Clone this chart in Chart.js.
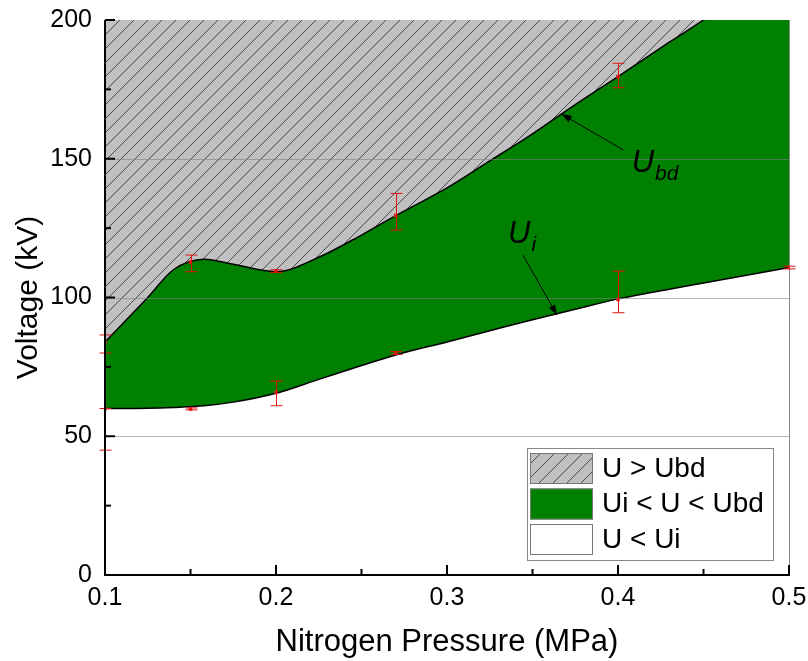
<!DOCTYPE html>
<html>
<head>
<meta charset="utf-8">
<script src="https://cdn.jsdelivr.net/npm/chart.js@4/dist/chart.umd.min.js"></script>
<style>
  html, body { margin: 0; padding: 0; background: #fff; }
  #wrap { width: 808px; height: 661px; }
</style>
</head>
<body>
<div id="wrap"><canvas id="chart" width="808" height="661"></canvas></div>
<script>
// boundary curves at these pressures (MPa)
let curveX   = [0.1, 0.125, 0.14, 0.158, 0.175, 0.2, 0.225, 0.25, 0.27, 0.3, 0.325, 0.35, 0.375, 0.4, 0.43, 0.45, 0.5];
let ubdCurve = [84, 100, 110, 113.8, 112, 109.3, 114.5, 122.5, 129.5, 139.5, 149.2, 159, 169.5, 179.6, 192, 200, 222];
let uiCurve  = [60, 60.1, 60.4, 61, 62.3, 65.5, 70.5, 75.5, 79.3, 84, 88, 92, 95.8, 99.5, 103, 105.2, 110.8];

// measured points with error bars (kV)
let ubdPressure = [0.1, 0.15, 0.2, 0.27, 0.4];
let ubdVoltage  = [84, 112.8, 109.5, 129.5, 179.6];
let ubdLow      = [80, 109.3, 109, 124.3, 175.6];
let ubdHigh     = [86.5, 115.3, 110, 137.5, 184.4];

let uiPressure = [0.1, 0.15, 0.2, 0.27, 0.4, 0.5];
let uiVoltage  = [60, 59.8, 65.8, 80, 99.3, 110.8];
let uiLow      = [45, 59.5, 61, 79.5, 94.5, 110.3];
let uiHigh     = [60, 60.2, 69.9, 80.5, 109.5, 111.3];

let xTicks = [0.1, 0.2, 0.3, 0.4, 0.5];
let yTicks = [0, 50, 100, 150, 200];
let gridValues = [50, 100, 150];
let legendLabels = ['U > Ubd', 'Ui < U < Ubd', 'U < Ui'];

const FONT = "'Liberation Sans', Arial, sans-serif";
const GREEN = 'rgb(0,128,0)';
const RED = 'rgb(225,20,20)';

Chart.defaults.font.family = FONT;
Chart.defaults.color = '#000';

let canvas = document.getElementById('chart');
let ctx0 = canvas.getContext('2d');

function makeHatch(step, bg, ink) {
    let c = document.createElement('canvas');
    c.width = step; c.height = step;
    let g = c.getContext('2d');
    g.fillStyle = bg;
    g.fillRect(0, 0, step, step);
    g.strokeStyle = ink;
    g.lineWidth = 1;
    g.beginPath();
    g.moveTo(-1, step + 1); g.lineTo(step + 1, -1);
    g.moveTo(-step / 2 - 1, step / 2 + 1); g.lineTo(step / 2 + 1, -step / 2 - 1);
    g.moveTo(step / 2 - 1, step * 1.5 + 1); g.lineTo(step * 1.5 + 1, step / 2 - 1);
    g.stroke();
    return ctx0.createPattern(c, 'repeat');
}

let hatch = makeHatch(14, '#c0c0c0', '#4a4a4a');

// text labels with arrows, anchored in data units
let notes = [
    { main: 'U', sub: 'bd', x: 0.408, y: 145.2, from: [0.403, 153.2], to: [0.367, 166.1] },
    { main: 'U', sub: 'i',  x: 0.3357, y: 119.6, from: [0.3444, 115.3], to: [0.3643, 93.7] }
];

function strokeLine(ctx, x1, y1, x2, y2) {
    ctx.beginPath();
    ctx.moveTo(x1, y1);
    ctx.lineTo(x2, y2);
    ctx.stroke();
}

function minorsOf(ticks) {
    let out = [];
    for (let i = 0; i < ticks.length - 1; i++) out.push((ticks[i] + ticks[i + 1]) / 2);
    return out;
}

const decor = {
    id: 'decor',
    afterDatasetsDraw(chart) {
        let { ctx, chartArea: a, scales: { x, y } } = chart;
        ctx.save();

        // grid lines sit over the filled regions
        ctx.strokeStyle = 'rgba(128,128,128,0.6)';
        ctx.lineWidth = 1;
        gridValues.forEach(v => {
            let py = Math.round(y.getPixelForValue(v)) + 0.5;
            strokeLine(ctx, a.left, py, a.right, py);
        });
        ctx.strokeStyle = '#888';
        strokeLine(ctx, a.right + 0.5, a.top, a.right + 0.5, a.bottom);

        // error bars
        ctx.strokeStyle = RED;
        ctx.lineWidth = 1;
        let bars = (xs, lo, hi) => {
            for (let i = 0; i < xs.length; i++) {
                let px = Math.round(x.getPixelForValue(xs[i])) + 0.5;
                let t = y.getPixelForValue(hi[i]);
                let b = y.getPixelForValue(lo[i]);
                strokeLine(ctx, px, t, px, b);
                strokeLine(ctx, px - 6, t, px + 6, t);
                strokeLine(ctx, px - 6, b, px + 6, b);
            }
        };
        bars(ubdPressure, ubdLow, ubdHigh);
        bars(uiPressure, uiLow, uiHigh);

        // axes with inward ticks
        ctx.strokeStyle = '#000';
        ctx.lineWidth = 2;
        strokeLine(ctx, a.left, a.top, a.left, a.bottom + 1);
        strokeLine(ctx, a.left - 1, a.bottom, a.right + 1, a.bottom);
        xTicks.forEach(v => { let p = x.getPixelForValue(v); strokeLine(ctx, p, a.bottom, p, a.bottom - 10); });
        minorsOf(xTicks).forEach(v => { let p = x.getPixelForValue(v); strokeLine(ctx, p, a.bottom, p, a.bottom - 6); });
        yTicks.forEach(v => { let p = y.getPixelForValue(v); strokeLine(ctx, a.left, p, a.left + 10, p); });
        minorsOf(yTicks).forEach(v => { let p = y.getPixelForValue(v); strokeLine(ctx, a.left, p, a.left + 6, p); });

        // annotations
        ctx.fillStyle = '#000';
        ctx.strokeStyle = '#000';
        ctx.lineWidth = 1;
        ctx.textBaseline = 'alphabetic';
        ctx.textAlign = 'left';
        notes.forEach(n => {
            let px = x.getPixelForValue(n.x), py = y.getPixelForValue(n.y);
            ctx.font = 'italic 31px ' + FONT;
            ctx.fillText(n.main, px, py);
            let w = ctx.measureText(n.main).width;
            ctx.font = 'italic 21px ' + FONT;
            ctx.fillText(n.sub, px + w + 1, py + 8);

            let x1 = x.getPixelForValue(n.from[0]), y1 = y.getPixelForValue(n.from[1]);
            let x2 = x.getPixelForValue(n.to[0]), y2 = y.getPixelForValue(n.to[1]);
            strokeLine(ctx, x1, y1, x2, y2);
            let ang = Math.atan2(y2 - y1, x2 - x1);
            ctx.beginPath();
            ctx.moveTo(x2, y2);
            ctx.lineTo(x2 - 10 * Math.cos(ang) + 3.5 * Math.sin(ang), y2 - 10 * Math.sin(ang) - 3.5 * Math.cos(ang));
            ctx.lineTo(x2 - 10 * Math.cos(ang) - 3.5 * Math.sin(ang), y2 - 10 * Math.sin(ang) + 3.5 * Math.cos(ang));
            ctx.closePath();
            ctx.fill();
        });

        // legend box in the lower right corner
        let bx = a.right - 262, by = a.bottom - 127, bw = 246, bh = 112;
        ctx.fillStyle = '#fff';
        ctx.fillRect(bx, by, bw, bh);
        ctx.strokeStyle = '#888';
        ctx.strokeRect(bx + 0.5, by + 0.5, bw, bh);
        let fills = [hatch, GREEN, '#fff'];
        ctx.font = '28px ' + FONT;
        ctx.textBaseline = 'middle';
        legendLabels.forEach((lab, i) => {
            let sy = by + 5 + i * 35.5;
            ctx.fillStyle = fills[i];
            ctx.fillRect(bx + 3, sy, 63, 31);
            ctx.strokeStyle = '#777';
            ctx.strokeRect(bx + 3.5, sy + 0.5, 62, 30);
            ctx.fillStyle = '#000';
            ctx.fillText(lab, bx + 75, sy + 16);
        });

        ctx.restore();
    }
};

new Chart(canvas, {
    type: 'line',
    data: {
        datasets: [{
            label: 'Ubd',
            data: curveX.map((v, i) => ({ x: v, y: ubdCurve[i] })),
            borderColor: '#000',
            borderWidth: 1.5,
            backgroundColor: hatch,
            fill: 'end',
            pointRadius: 0,
            cubicInterpolationMode: 'monotone'
        }, {
            label: 'Ui',
            data: curveX.map((v, i) => ({ x: v, y: uiCurve[i] })),
            borderColor: '#000',
            borderWidth: 1.5,
            backgroundColor: GREEN,
            fill: '-1',
            pointRadius: 0,
            cubicInterpolationMode: 'monotone'
        }, {
            label: 'Ubd measured',
            data: ubdPressure.map((v, i) => ({ x: v, y: ubdVoltage[i] })),
            showLine: false,
            pointStyle: 'rect',
            pointRadius: 2.5,
            pointBorderWidth: 0,
            pointBackgroundColor: RED,
            order: -1
        }, {
            label: 'Ui measured',
            data: uiPressure.map((v, i) => ({ x: v, y: uiVoltage[i] })),
            showLine: false,
            pointStyle: 'rect',
            pointRadius: 2.5,
            pointBorderWidth: 0,
            pointBackgroundColor: RED,
            order: -1
        }]
    },
    options: {
        responsive: false,
        animation: false,
        devicePixelRatio: 1,
        layout: { padding: { top: 20, right: 19, left: 0, bottom: 0 } },
        plugins: { legend: { display: false }, tooltip: { enabled: false } },
        scales: {
            x: {
                type: 'linear',
                min: 0.1,
                max: 0.5,
                afterBuildTicks: s => { s.ticks = xTicks.map(v => ({ value: v })); },
                afterFit: s => { s.height = 86; s.paddingLeft = 0; s.paddingRight = 0; },
                grid: { display: false, drawTicks: false },
                border: { display: false },
                ticks: {
                    font: { size: 25 },
                    padding: 8,
                    maxRotation: 0,
                    callback: v => v.toFixed(1)
                },
                title: {
                    display: true,
                    text: 'Nitrogen Pressure (MPa)',
                    font: { size: 31 },
                    padding: { top: 0, bottom: 0 }
                }
            },
            y: {
                min: 0,
                max: 200,
                afterBuildTicks: s => { s.ticks = yTicks.map(v => ({ value: v })); },
                afterFit: s => { s.width = 105; s.paddingTop = 0; s.paddingBottom = 0; },
                grid: { display: false, drawTicks: false },
                border: { display: false },
                ticks: {
                    font: { size: 25 },
                    padding: 13
                },
                title: {
                    display: true,
                    text: 'Voltage (kV)',
                    font: { size: 30 },
                    padding: { top: 11, bottom: 0 }
                }
            }
        }
    },
    plugins: [decor]
});
</script>
</body>
</html>
